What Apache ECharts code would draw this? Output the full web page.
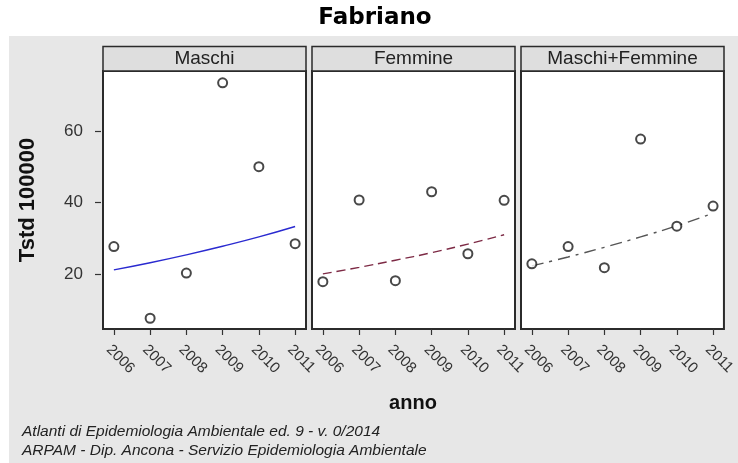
<!DOCTYPE html>
<html>
<head>
<meta charset="utf-8">
<script src="https://cdn.jsdelivr.net/npm/echarts@6/dist/echarts.min.js"></script>
<style>
html,body{margin:0;padding:0;background:#fff;}
#c{width:738px;height:463px;}
</style>
</head>
<body>
<div id="c"></div>
<script>
// ---- data ----
var years = [2006, 2007, 2008, 2009, 2010, 2011];
var panels = ['Maschi', 'Femmine', 'Maschi+Femmine'];
var yTicks = [20, 40, 60];
var maschiObs = [27.7, 7.7, 20.3, 73.4, 50.0, 28.5];
var femmineObs = [17.9, 40.7, 18.2, 43.0, 25.7, 40.6];
var totaleObs = [22.9, 27.7, 21.8, 57.7, 33.4, 39.0];
var maschiFit = [21.2, 23.2, 25.4, 27.8, 30.4, 33.3];
var femmineFit = [20.1, 21.9, 23.9, 26.0, 28.4, 31.0];
var totaleFit = [22.3, 24.8, 27.5, 30.4, 33.5, 37.0];

var obsSets = [maschiObs, femmineObs, totaleObs];
var fitSets = [maschiFit, femmineFit, totaleFit];
var fitStyles = [
  {color: '#2a2ad0', type: 'solid'},
  {color: '#7d2a45', type: [9, 5]},
  {color: '#555555', type: [12, 6, 3, 6]}
];

function pairs(xs, ys){ return xs.map(function(x,i){ return [x, ys[i]]; }); }

var gridLefts = [103, 312, 521];
var gridW = 203;
var gridTop = 71, gridBottom = 329;
var FONT = '"Liberation Sans", Arial, sans-serif';

var grids = [], xAxes = [], yAxes = [], series = [], graphics = [];

graphics.push({type:'rect', shape:{x:9, y:36, width:729, height:427}, style:{fill:'#e7e7e7'}, z:-10, silent:true});

panels.forEach(function(name, i){
  grids.push({left: gridLefts[i], top: gridTop, width: gridW, height: gridBottom - gridTop,
    show: true, backgroundColor: '#ffffff', borderColor: '#2b2b2b', borderWidth: 2});
  xAxes.push({type:'value', gridIndex:i, min:2005.7, max:2011.3,
    axisLine:{show:false}, splitLine:{show:false},
    axisTick:{show:true, length:6, customValues: years, lineStyle:{color:'#333', width:1.2}},
    axisLabel:{show:true, customValues: years, rotate:-45, margin:13, verticalAlign:'top', fontSize:15, color:'#333', fontFamily:FONT,
      formatter:function(v){ return String(v); }}
  });
  yAxes.push({type:'value', gridIndex:i, min:4.7, max:76.7, offset: i===0 ? 2 : 0,
    axisLine:{show:false}, splitLine:{show:false},
    axisTick:{show: i===0, length:6, customValues: yTicks, lineStyle:{color:'#333', width:1.2}},
    axisLabel:{show: i===0, customValues: yTicks, margin:18, fontSize:17, color:'#333', fontFamily:FONT},
    name: i===0 ? 'Tstd 100000' : '', nameLocation:'middle', nameGap:62, nameRotate:90,
    nameTextStyle:{fontSize:22, fontWeight:'bold', color:'#111', fontFamily:FONT}
  });
  series.push({type:'line', xAxisIndex:i, yAxisIndex:i, data: pairs(years, fitSets[i]),
    smooth:true, showSymbol:false, symbol:'none', silent:true,
    lineStyle:{color: fitStyles[i].color, width:1.4, type: fitStyles[i].type}, z:2});
  series.push({type:'scatter', xAxisIndex:i, yAxisIndex:i, data: pairs(years, obsSets[i]),
    symbol:'emptyCircle', symbolSize:9,
    itemStyle:{color:'#1a1a1a', borderColor:'#1a1a1a', borderWidth:1.8}, z:3});
  // strip
  graphics.push({type:'rect', shape:{x:gridLefts[i], y:46.5, width:gridW, height:24.5},
    style:{fill:'#dedede', stroke:'#2b2b2b', lineWidth:1.5}, z:5, silent:true});
  graphics.push({type:'text', x:gridLefts[i] + gridW/2, y:59,
    style:{text:name, fill:'#222', font:'19px ' + FONT, align:'center', verticalAlign:'middle'}, z:6, silent:true});
});

graphics.push({type:'text', x:375, y:18, style:{text:'Fabriano', fill:'#000', font:'bold 23px "DejaVu Sans", Verdana, sans-serif', align:'center', verticalAlign:'middle'}, z:6});
graphics.push({type:'text', x:413, y:403, style:{text:'anno', fill:'#111', font:'bold 20px ' + FONT, align:'center', verticalAlign:'middle'}, z:6});
graphics.push({type:'text', x:22, y:432, style:{text:'Atlanti di Epidemiologia Ambientale ed. 9 - v. 0/2014', fill:'#222', font:'italic 15.5px ' + FONT, align:'left', verticalAlign:'middle'}, z:6});
graphics.push({type:'text', x:22, y:451, style:{text:'ARPAM - Dip. Ancona - Servizio Epidemiologia Ambientale', fill:'#222', font:'italic 15.5px ' + FONT, align:'left', verticalAlign:'middle'}, z:6});

var chart = echarts.init(document.getElementById('c'), null, {renderer:'canvas'});
chart.setOption({
  animation:false,
  backgroundColor:'#ffffff',
  grid: grids, xAxis: xAxes, yAxis: yAxes, series: series,
  graphic: graphics
});
</script>
</body>
</html>
